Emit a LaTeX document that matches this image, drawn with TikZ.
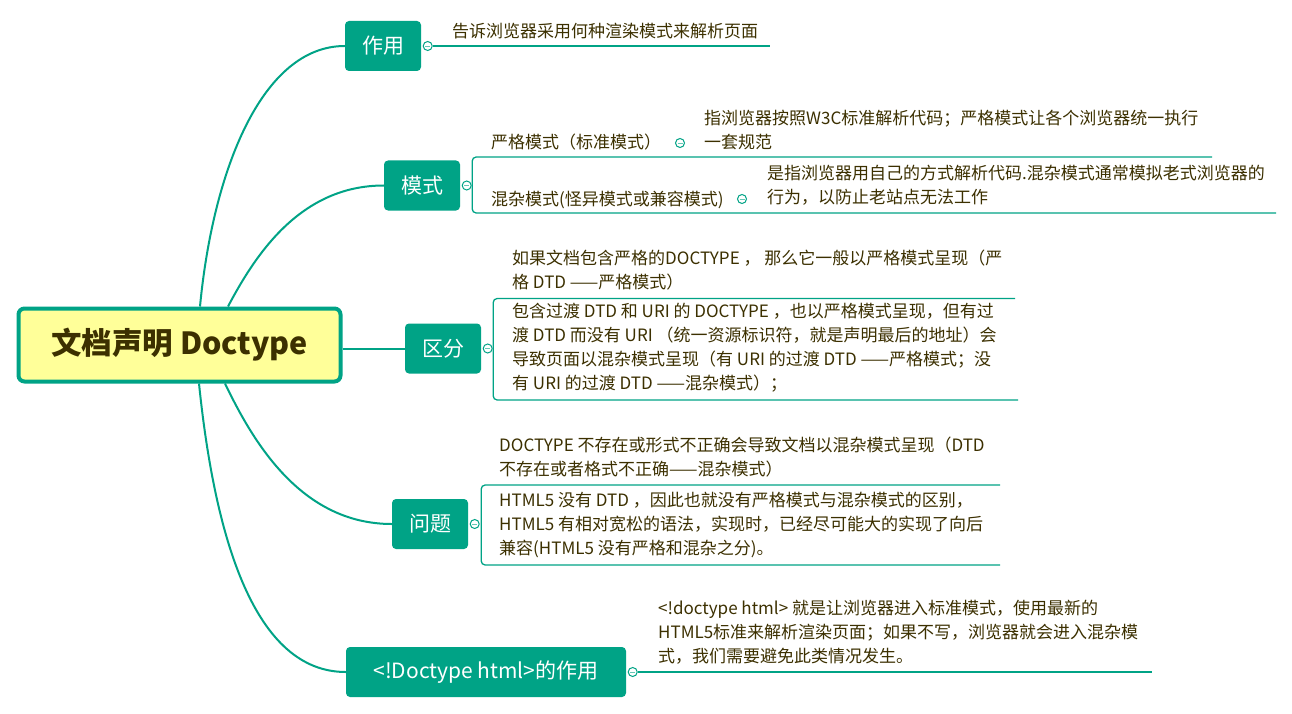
\documentclass[tikz,border=0pt]{standalone}
\usepackage{fontspec}
\setmainfont{Noto Sans CJK SC}
\usepackage{tikz}
\usetikzlibrary{positioning}
\definecolor{mmTeal}{HTML}{00A386}
\definecolor{mmRoot}{HTML}{FFFF99}
\definecolor{mmText}{HTML}{3C3000}
\tikzset{
  rootnode/.style={
    draw=mmTeal, fill=mmRoot, line width=4pt, rounded corners=6pt,
    minimum width=322pt, minimum height=73pt, text=mmText,
    font=\fontsize{30.5}{35}\selectfont\bfseries
  },
  topic/.style={
    fill=mmTeal, rounded corners=4pt, text=white, minimum height=50pt,
    minimum width=76pt, inner xsep=0pt, font=\fontsize{21}{25}\selectfont
  },
  fold/.style={
    circle, draw=mmTeal, fill=white, line width=1pt, minimum size=9pt, inner sep=0pt,
    path picture={\draw[mmTeal!60, line width=0.8pt]
      ([xshift=-2.5pt]path picture bounding box.center) --
      ([xshift=2.5pt]path picture bounding box.center);}
  },
  note/.style={
    anchor=north west, inner sep=0pt, align=left, text=mmText,
    font=\fontsize{17}{24}\selectfont, execute at begin node=\strut
  },
  branch/.style={draw=mmTeal, line width=2pt},
  uline/.style={draw=mmTeal, line width=1.3pt},
  bracket/.style={uline, rounded corners=4pt}
}
\begin{document}
\begin{tikzpicture}[x=1pt, y=-1pt]
  \path[use as bounding box, fill=white] (0,0) rectangle (1292,714);
  \node[rootnode] (root) at (179.5,345) {文档声明 Doctype};
  \node[topic] (use) at (383,46) {作用};
  \node[topic] (mode) at (422,185.5) {模式};
  \node[topic] (diff) at (443,348.5) {区分};
  \node[topic] (issue) at (430,524) {问题};
  \node[topic, minimum width=280pt] (dtype) at (486,672) {<!Doctype html>的作用};
  \node[fold, right=1.5pt of use] (usef) {};
  \node[fold, right=1.5pt of mode] (modef) {};
  \node[fold, right=1.5pt of diff] (difff) {};
  \node[fold, right=1.5pt of issue] (issuef) {};
  \node[fold, right=1.5pt of dtype] (dtypef) {};
  \node[note] (usetxt) at (452,21) {告诉浏览器采用何种渲染模式来解析页面};
  \node[note] (mode1) at (491,131.5) {严格模式（标准模式）};
  \node[fold] (mode1f) at (680,143) {};
  \node[note] (mode1txt) at (704,109.5) {指浏览器按照W3C标准解析代码；严格模式让各个浏览器统一执行\\一套规范};
  \node[note] (mode2) at (491,188.5) {混杂模式(怪异模式或兼容模式)};
  \node[fold] (mode2f) at (742,199) {};
  \node[note] (mode2txt) at (767,164.5) {是指浏览器用自己的方式解析代码.混杂模式通常模拟老式浏览器的\\行为，以防止老站点无法工作};
  \node[note] (diff1) at (512,249.5) {如果文档包含严格的DOCTYPE ， 那么它一般以严格模式呈现（严\\格 DTD ——严格模式）};
  \node[note] (diff2) at (512,302.5) {包含过渡 DTD 和 URI 的 DOCTYPE ，也以严格模式呈现，但有过\\渡 DTD 而没有 URI （统一资源标识符，就是声明最后的地址）会\\导致页面以混杂模式呈现（有 URI 的过渡 DTD ——严格模式；没\\有 URI 的过渡 DTD ——混杂模式）；};
  \node[note] (issue1) at (499,436.5) {DOCTYPE 不存在或形式不正确会导致文档以混杂模式呈现（DTD\\不存在或者格式不正确——混杂模式）};
  \node[note] (issue2) at (499,491.5) {HTML5 没有 DTD ，因此也就没有严格模式与混杂模式的区别，\\HTML5 有相对宽松的语法，实现时，已经尽可能大的实现了向后\\兼容(HTML5 没有严格和混杂之分)。};
  \node[note] (dtypetxt) at (658,599.5) {<!doctype html> 就是让浏览器进入标准模式，使用最新的\\HTML5标准来解析渲染页面；如果不写，浏览器就会进入混杂模\\式，我们需要避免此类情况发生。};
  \coordinate (useend) at (770,46);
  \coordinate (mode1end) at (1212,157);
  \coordinate (mode2end) at (1276,213);
  \coordinate (diff1end) at (1015,298.5);
  \coordinate (diff2end) at (1018,400);
  \coordinate (issue1end) at (1000,485);
  \coordinate (issue2end) at (1000,565);
  \coordinate (dtypeend) at (1152,672);
  \draw[branch] ([xshift=20.5pt]root.north) .. controls +(13,-136) and +(-83,0) .. (use.west);
  \draw[branch] ([xshift=48.5pt]root.north) .. controls +(27,-51) and +(-84,0) .. (mode.west);
  \draw[branch] (root.east |- diff.west) -- (diff.west);
  \draw[branch] ([xshift=45.5pt]root.south) .. controls +(27,56) and +(-92,0) .. (issue.west);
  \draw[branch] ([xshift=19.5pt]root.south) .. controls +(16,156) and +(-91,0) .. (dtype.west);
  \draw[uline] (usef) -- (useend);
  \draw[bracket] (mode1end) -| ([xshift=0.5pt]modef.east) |- (mode2end);
  \draw[bracket] (diff1end) -| ([xshift=0.5pt]difff.east) |- (diff2end);
  \draw[bracket] (issue1end) -| ([xshift=1.5pt]issuef.east) |- (issue2end);
  \draw[uline] (dtypef) -- (dtypeend);
\end{tikzpicture}
\end{document}
